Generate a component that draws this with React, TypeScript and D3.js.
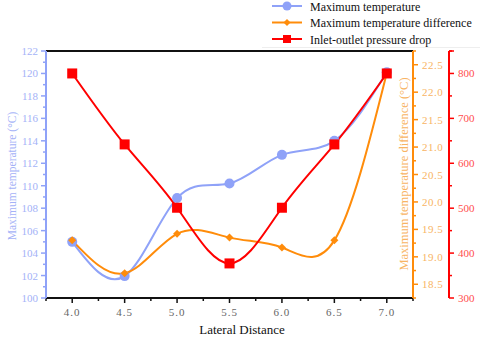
import React from "react";
import * as d3 from "d3";

const distances = [4.0, 4.5, 5.0, 5.5, 6.0, 6.5, 7.0];
const maxTemp = [105.0, 101.95, 108.9, 110.2, 112.75, 114.0, 120.1];
const maxTempDiff = [19.3, 18.7, 19.42, 19.35, 19.17, 19.3, 22.35];
const pressureDrop = [800, 642, 501, 377, 501, 642, 800];

const xTicks = [4.0, 4.5, 5.0, 5.5, 6.0, 6.5, 7.0];
const leftTicks = [100, 102, 104, 106, 108, 110, 112, 114, 116, 118, 120, 122];
const orangeTicks = [18.5, 19.0, 19.5, 20.0, 20.5, 21.0, 21.5, 22.0, 22.5];
const redTicks = [300, 400, 500, 600, 700, 800];

const legendLabels = [
  "Maximum temperature",
  "Maximum temperature difference",
  "Inlet-outlet pressure drop",
];

const BLUE = "#8fa2f8";
const BLUE_TXT = "#a4b2f7";
const ORANGE = "#ff8c0a";
const ORANGE_TXT = "#f8b463";
const RED = "#ff0000";
const RED_TXT = "#ff4d4d";
const SERIF = "'Liberation Serif', 'Times New Roman', serif";

export default function App() {
  const L = 46, R = 413, T = 51, B = 298;
  const redX = 449;
  const x = d3.scaleLinear().domain([3.75, 7.25]).range([L, R]);
  const yL = d3.scaleLinear().domain([100, 122]).range([B, T]);
  const yO = d3.scaleLinear().domain([18.25, 22.75]).range([B, T]);
  const yR = d3.scaleLinear().domain([300, 850]).range([B, T]);

  const lineGen = (ys: number[], yScale: d3.ScaleLinear<number, number>) =>
    d3
      .line<number>()
      .x((_, i) => x(distances[i]))
      .y((v) => yScale(v))
      .curve(d3.curveNatural)(ys) || "";

  const xMinor = d3.range(3.75, 7.2501, 0.25);
  const leftMinor = d3.range(100, 122.001, 1);
  const orangeMinor = d3.range(18.25, 22.7501, 0.25);
  const redMinor = d3.range(300, 850.001, 50);

  const diamond = (cx: number, cy: number, r: number) =>
    `M${cx},${cy - r}L${cx + r},${cy}L${cx},${cy + r}L${cx - r},${cy}Z`;

  const legendY = [6, 22.5, 39];

  return (
    <svg
      width={480}
      height={339}
      style={{ position: "absolute", left: 0, top: 0, background: "#fff" }}
      fontFamily={SERIF}
    >
      {/* legend */}
      <line x1={262} x2={480} y1={47.5} y2={47.5} stroke="#eee" strokeWidth={1} />
      {legendLabels.map((lab, i) => {
        const y = legendY[i];
        const col = [BLUE, ORANGE, RED][i];
        return (
          <g key={lab}>
            <line x1={272} x2={302} y1={y} y2={y} stroke={col} strokeWidth={2} />
            {i === 0 && <circle cx={287} cy={y} r={4.5} fill={col} />}
            {i === 1 && <path d={diamond(287, y, 3.5)} fill={col} />}
            {i === 2 && <rect x={283} y={y - 4} width={8} height={8} fill={col} />}
            <text x={310} y={y + 4.5} fontSize={12} fill="#111">
              {lab}
            </text>
          </g>
        );
      })}

      {/* frame top & bottom */}
      <line x1={L} x2={R} y1={T} y2={T} stroke="#111" strokeWidth={2} />
      <line x1={L} x2={R} y1={B} y2={B} stroke="#111" strokeWidth={2} />

      {/* x axis ticks */}
      {xMinor.map((v, i) => (
        <line
          key={"xm" + i}
          x1={x(v)}
          x2={x(v)}
          y1={B}
          y2={B + (xTicks.some((t) => Math.abs(t - v) < 1e-6) ? 5 : 3)}
          stroke="#111"
          strokeWidth={1.5}
        />
      ))}
      {xTicks.map((v) => (
        <text
          key={"xt" + v}
          x={x(v)}
          y={B + 18}
          fontSize={11}
          fill="#666"
          textAnchor="middle"
          letterSpacing={1}
        >
          {v.toFixed(1)}
        </text>
      ))}
      <text x={242} y={334} fontSize={13} fill="#111" textAnchor="middle">
        Lateral Distance
      </text>

      {/* left axis */}
      <line x1={L} x2={L} y1={T} y2={B} stroke={BLUE} strokeWidth={2} />
      {leftMinor.map((v) => (
        <line
          key={"lm" + v}
          x1={L}
          x2={L - (v % 2 === 0 ? 5 : 3)}
          y1={yL(v)}
          y2={yL(v)}
          stroke={BLUE}
          strokeWidth={1.5}
        />
      ))}
      {leftTicks.map((v) => (
        <text key={"lt" + v} x={L - 8} y={yL(v) + 4} fontSize={11} fill={BLUE_TXT} textAnchor="end">
          {v}
        </text>
      ))}
      <text
        transform={`translate(16,176) rotate(-90)`}
        fontSize={11.5}
        fill={BLUE_TXT}
        textAnchor="middle"
      >
        Maximum temperature (°C)
      </text>

      {/* orange axis */}
      <line x1={R} x2={R} y1={T} y2={B} stroke={ORANGE} strokeWidth={2} />
      {orangeMinor.map((v, i) => (
        <line
          key={"om" + i}
          x1={R}
          x2={R + (orangeTicks.some((t) => Math.abs(t - v) < 1e-6) ? 5 : 3)}
          y1={yO(v)}
          y2={yO(v)}
          stroke={ORANGE}
          strokeWidth={1.5}
        />
      ))}
      {orangeTicks.map((v) => (
        <text key={"ot" + v} x={R + 9} y={yO(v) + 4} fontSize={11} fill={ORANGE_TXT} letterSpacing={0.5}>
          {v.toFixed(1)}
        </text>
      ))}
      <text
        transform={`translate(408,174) rotate(-90)`}
        fontSize={12.5}
        fill={ORANGE_TXT}
        textAnchor="middle"
      >
        Maximum temperature difference (°C)
      </text>

      {/* red axis */}
      <line x1={redX} x2={redX} y1={T} y2={B} stroke={RED} strokeWidth={2} />
      {redMinor.map((v) => (
        <line
          key={"rm" + v}
          x1={redX}
          x2={redX + (v % 100 === 0 ? 5 : 3)}
          y1={yR(v)}
          y2={yR(v)}
          stroke={RED}
          strokeWidth={1.5}
        />
      ))}
      <line x1={redX} x2={redX + 5} y1={T} y2={T} stroke={RED} strokeWidth={1.5} />
      {redTicks.map((v) => (
        <text key={"rt" + v} x={redX + 9} y={yR(v) + 4} fontSize={11} fill={RED_TXT}>
          {v}
        </text>
      ))}

      {/* series lines */}
      <path d={lineGen(maxTemp, yL)} fill="none" stroke={BLUE} strokeWidth={2} />
      <path d={lineGen(maxTempDiff, yO)} fill="none" stroke={ORANGE} strokeWidth={2} />
      <path d={lineGen(pressureDrop, yR)} fill="none" stroke={RED} strokeWidth={2} />

      {/* markers */}
      {maxTemp.map((v, i) => (
        <circle key={"bc" + i} cx={x(distances[i])} cy={yL(v)} r={5} fill={BLUE} />
      ))}
      {maxTempDiff.map((v, i) => (
        <path key={"od" + i} d={diamond(x(distances[i]), yO(v), 4)} fill={ORANGE} />
      ))}
      {pressureDrop.map((v, i) => (
        <rect key={"rs" + i} x={x(distances[i]) - 5} y={yR(v) - 5} width={10} height={10} fill={RED} />
      ))}
    </svg>
  );
}
